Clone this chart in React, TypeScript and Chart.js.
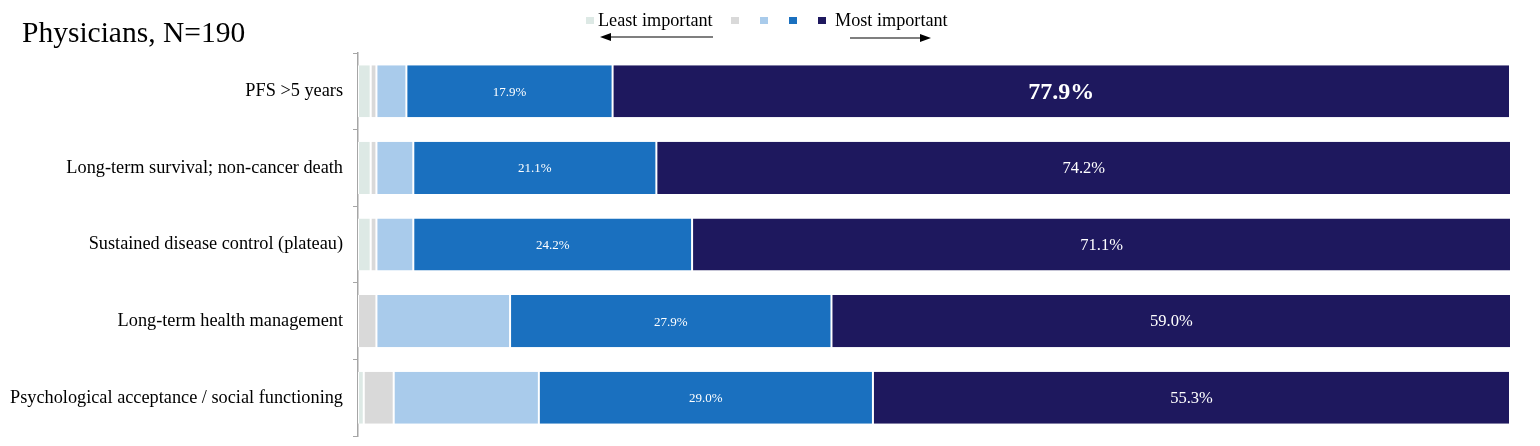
import React, { useEffect, useRef } from "react";
import { Chart, registerables } from "chart.js";

Chart.register(...registerables);

const categories = [
  "PFS >5 years",
  "Long-term survival; non-cancer death",
  "Sustained disease control (plateau)",
  "Long-term health management",
  "Psychological acceptance / social functioning",
];
const seriesNames = ["Least important", "2", "3", "4", "Most important"];
const level1 = [1.1, 1.1, 1.1, 0, 0.5];
const level2 = [0.5, 0.5, 0.5, 1.6, 2.6];
const level3 = [2.6, 3.2, 3.2, 11.6, 12.6];
const level4 = [17.9, 21.1, 24.2, 27.9, 29.0];
const level5 = [77.9, 74.2, 71.1, 59.0, 55.3];
const colors = ["#dde9e5", "#d9d9d9", "#a9cbeb", "#1a70bf", "#1e185e"];

const SERIF = "'Liberation Serif', 'Times New Roman', serif";

const labelPlugin = {
  id: "segLabels",
  afterDatasetsDraw(chart: any) {
    const ctx = chart.ctx;
    ctx.save();
    ctx.fillStyle = "#ffffff";
    ctx.textAlign = "center";
    ctx.textBaseline = "middle";
    [3, 4].forEach((di) => {
      const meta = chart.getDatasetMeta(di);
      const data = chart.data.datasets[di].data as number[];
      meta.data.forEach((el: any, i: number) => {
        const cx = (el.x + el.base) / 2;
        if (di === 3) {
          ctx.font = `13px ${SERIF}`;
        } else if (i === 0) {
          ctx.font = `bold 24px ${SERIF}`;
        } else {
          ctx.font = `16.5px ${SERIF}`;
        }
        ctx.fillText(data[i].toFixed(1) + "%", cx, el.y + 1);
      });
    });
    ctx.restore();
  },
};

export default function App() {
  const ref = useRef<HTMLCanvasElement>(null);
  useEffect(() => {
    if (!ref.current) return;
    const all = [level1, level2, level3, level4, level5];
    const chart = new Chart(ref.current, {
      type: "bar",
      data: {
        labels: categories,
        datasets: all.map((d, i) => ({
          label: seriesNames[i],
          data: d,
          backgroundColor: colors[i],
          borderColor: "#ffffff",
          borderWidth: { left: 1, right: 1, top: 0, bottom: 0 },
          borderSkipped: false,
          barPercentage: 0.68,
          categoryPercentage: 1,
        })),
      },
      options: {
        indexAxis: "y",
        animation: false,
        responsive: false,
        maintainAspectRatio: false,
        layout: { padding: { top: 53, right: 30, bottom: 10, left: 0 } },
        plugins: {
          legend: { display: false },
          tooltip: { enabled: false },
          title: { display: false },
        },
        scales: {
          x: { stacked: true, display: false, min: 0, max: 100 },
          y: {
            stacked: true,
            z: 1,
            afterFit: (s: any) => {
              s.width = 358;
              s.paddingTop = 0;
              s.paddingBottom = 0;
            },
            border: { display: true, color: "#a6a6a6", width: 1.5 },
            grid: {
              offset: true,
              drawOnChartArea: false,
              drawTicks: true,
              tickLength: 5,
              color: "#a6a6a6",
            },
            ticks: {
              color: "#000000",
              padding: 10,
              font: { family: SERIF, size: 18.3 },
            },
          },
        },
      },
      plugins: [labelPlugin],
    });
    return () => chart.destroy();
  }, []);

  const sq = (c: string, left: number) => (
    <div
      style={{
        position: "absolute",
        left,
        top: 17,
        width: 8,
        height: 7,
        background: c,
      }}
    />
  );

  return (
    <div
      style={{
        position: "absolute",
        left: 0,
        top: 0,
        width: 1540,
        height: 446,
        background: "#ffffff",
        fontFamily: SERIF,
      }}
    >
      <canvas ref={ref} width={1540} height={446} style={{ position: "absolute", left: 0, top: 0 }} />
      <div style={{ position: "absolute", left: 22, top: 14, fontSize: 29.5, color: "#000", lineHeight: "36px" }}>
        Physicians, N=190
      </div>
      {sq(colors[0], 586)}
      <div style={{ position: "absolute", left: 598, top: 9, fontSize: 18.2, color: "#000", lineHeight: "22px" }}>
        Least important
      </div>
      {sq(colors[1], 731)}
      {sq(colors[2], 760)}
      {sq(colors[3], 789)}
      {sq(colors[4], 818)}
      <div style={{ position: "absolute", left: 835, top: 9, fontSize: 18.2, color: "#000", lineHeight: "22px" }}>
        Most important
      </div>
      <svg style={{ position: "absolute", left: 0, top: 0 }} width={1540} height={60}>
        <line x1={713} y1={37} x2={608} y2={37} stroke="#000" strokeWidth={1.2} />
        <polygon points="600,37 611,33 611,41" fill="#000" />
        <line x1={850} y1={38} x2={922} y2={38} stroke="#000" strokeWidth={1.2} />
        <polygon points="931,38 920,34 920,42" fill="#000" />
      </svg>
    </div>
  );
}
